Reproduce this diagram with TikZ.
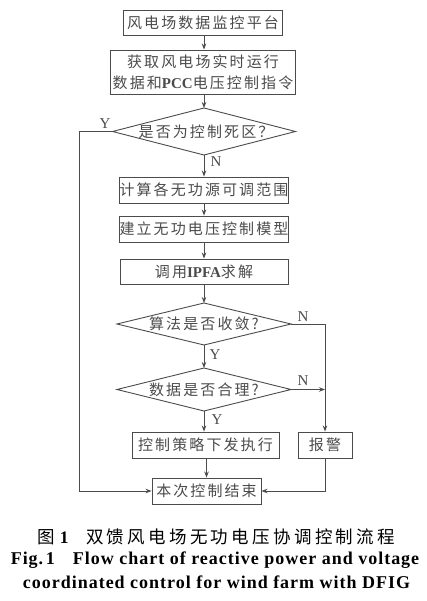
\documentclass[tikz,border=0pt]{standalone}
\usepackage{fontspec}
\setmainfont{Liberation Serif}
\newfontfamily\cjk[LetterSpace=14]{Noto Sans CJK SC}
\newfontfamily\cjkcap[LetterSpace=19]{Noto Sans CJK SC}
\newfontfamily\capfont[LetterSpace=5.5]{Liberation Serif}
\usetikzlibrary{arrows.meta}
\definecolor{ink}{RGB}{75,75,75}
% #1 name, #2 x, #3 y, #4 half width, #5 half height, #6 text
\newcommand\mydiamond[6]{%
  \node[dtext] (#1) at (#2,#3) {#6};
  \coordinate (#1n) at (#2,#3-#5);
  \coordinate (#1s) at (#2,#3+#5);
  \coordinate (#1w) at (#2-#4,#3);
  \coordinate (#1e) at (#2+#4,#3);
  \draw[ln] (#1n) -- (#1e) -- (#1s) -- (#1w) -- cycle;}
\begin{document}
\begin{tikzpicture}[x=1pt,y=-1pt,
  every node/.style={text=ink},
  box/.style={draw=ink,line width=0.9pt,rectangle,inner sep=0pt,align=center,font=\cjk\fontsize{15}{21}\selectfont},
  dtext/.style={inner sep=0pt,font=\cjk\fontsize{15}{18}\selectfont},
  lbl/.style={font=\fontsize{15}{18}\selectfont,inner sep=0pt},
  arr/.style={draw=ink,line width=0.9pt,-{Stealth[length=6pt,width=4.5pt]}},
  ln/.style={draw=ink,line width=0.9pt,line join=miter}]
\useasboundingbox (0,0) rectangle (426,601);
\node[box,minimum width=159pt,minimum height=25pt] (b1) at (203,22.5) {风电场数据监控平台};
\node[box,minimum width=185pt,minimum height=44pt] (b2) at (203,72) {获取风电场实时运行\\数据和{\rmfamily\bfseries PCC}电压控制指令};
\mydiamond{d1}{204}{131.5}{91.5}{23.5}{\hspace{4pt}是否为控制死区？}
\node[box,minimum width=167pt,minimum height=26pt] (b3) at (204,190) {计算各无功源可调范围};
\node[box,minimum width=168pt,minimum height=26pt] (b4) at (204,229) {建立无功电压控制模型};
\node[box,minimum width=168pt,minimum height=25pt] (b5) at (204,271.5) {调用{\rmfamily\bfseries IPFA}求解};
\mydiamond{d2}{204}{324}{87}{21}{算法是否收敛?}
\mydiamond{d3}{204}{389.5}{87}{21.5}{数据是否合理?}
\node[box,minimum width=147pt,minimum height=26pt] (b6) at (205.5,445) {控制策略下发执行};
\node[box,minimum width=54pt,minimum height=26pt] (al) at (325,445) {报警};
\node[box,minimum width=109pt,minimum height=26pt] (en) at (206.5,491) {本次控制结束};
\coordinate (c1) at (79,131.5);
\coordinate (c2) at (79,491);
\coordinate (c3) at (325,324);
\coordinate (c4) at (325,389.5);
\coordinate (c5) at (325,491);
\draw[arr] (b1.south -| d1n) -- (b2.north -| d1n);
\draw[arr] (b2.south -| d1n) -- (d1n);
\draw[arr] (d1s) -- (b3.north -| d1s);
\draw[arr] (b3) -- (b4);
\draw[arr] (b4) -- (b5);
\draw[arr] (b5.south -| d2n) -- (d2n);
\draw[arr] (d2s) -- (d3n);
\draw[arr] (d3s) -- (d3s |- b6.north);
\draw[arr] (b6.south -| en.north) -- (en.north);
\draw[arr] (d1w) -- (c1) -- (c2) -- (en.west);
\draw[arr] (d2e) -- (c3) -- (al.north);
\draw[arr] (d3e) -- (c4);
\draw[arr] (al.south) -- (c5) -- (en.east);
\node[lbl] (y1) at (105,124) {Y};
\node[lbl] (n1) at (216,162) {N};
\node[lbl] (n2) at (303,317) {N};
\node[lbl] (y2) at (215,355) {Y};
\node[lbl] (n3) at (303,381) {N};
\node[lbl] (y3) at (217,420) {Y};
\node[inner sep=0pt,text=black] (cap1) at (216.5,537) {\cjkcap\fontsize{17.5}{18}\selectfont 图\hspace{0.25em}{\rmfamily\bfseries 1}\hspace{1.0em}双馈风电场无功电压协调控制流程};
\node[inner sep=0pt,text=black,font=\capfont\bfseries\fontsize{18}{20}\selectfont] (cap2) at (215,560) {Fig.\hspace{0.15em}1\hspace{1.0em}Flow chart of reactive power and voltage};
\node[inner sep=0pt,text=black,font=\capfont\bfseries\fontsize{18}{20}\selectfont] (cap3) at (216.5,582) {coordinated control for wind farm with DFIG};
\end{tikzpicture}
\end{document}
